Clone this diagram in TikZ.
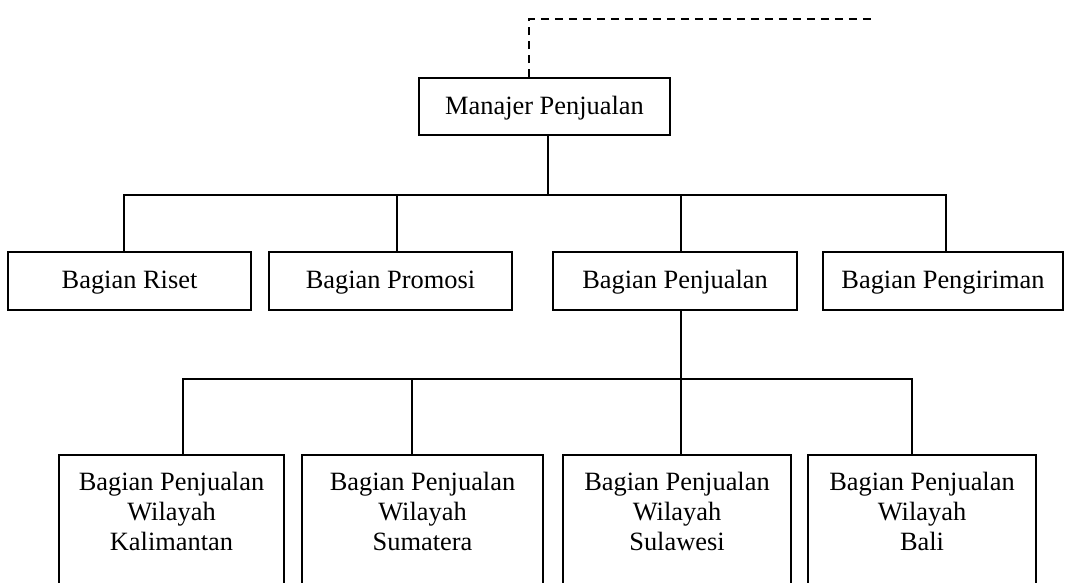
\documentclass[tikz,border=0pt]{standalone}
\usepackage{fontspec}
\setmainfont{Liberation Serif}
\usetikzlibrary{positioning}

\begin{document}
\begin{tikzpicture}[
    x=0.5pt, y=-0.5pt,
    kotak/.style={rectangle, draw, line width=0.9pt, minimum height=29pt, inner sep=2pt, text height=10pt, text depth=2pt, font=\fontsize{13.2}{15}\selectfont},
    wilayah/.style={kotak, anchor=north, align=flush center, text width=100pt, text height=10pt, text depth=70pt, inner ysep=8pt},
    garis/.style={line width=0.9pt}
]
    \clip (0,0) rectangle (1073,583);

    % Manajer
    \node[kotak, minimum width=125.5pt, minimum height=28.5pt] (mgr) at (544.5,106.5) {Manajer Penjualan};
    \coordinate (atas) at (872,19);
    \coordinate (bus1) at (548,195);
    \coordinate (bus2) at (681,379);
    \draw[garis, dash pattern=on 4pt off 3pt] ([xshift=-7.75pt]mgr.north) |- (atas);

    % Bagian
    \foreach \n/\x/\w/\t in {riset/129.5/121.5/Riset, promosi/390.5/121.5/Promosi, penjualan/675/122/Penjualan, pengiriman/943/120/Pengiriman} {
        \node[kotak, minimum width=\w pt] (\n) at (\x,281) {Bagian \t};
    }

    % Wilayah
    \foreach \n/\x/\w/\t in {kal/171.5/112.5/Kalimantan, sum/422.5/120.5/Sumatera, sul/677/114/Sulawesi, bali/922/114/Bali} {
        \node[wilayah, minimum width=\w pt] (\n) at (\x,454) {Bagian Penjualan\\Wilayah\\\t};
    }

    % Garis
    \draw[garis] (mgr.south -| bus1) -- (bus1);
    \foreach \n/\dx in {riset/-2.75, promosi/3.25, penjualan/3, pengiriman/1.5} {
        \draw[garis] ([xshift=\dx pt]\n.north) |- (bus1);
    }
    \draw[garis] ([xshift=3pt]penjualan.south) -- (bus2);
    \foreach \n/\dx in {kal/5.75, sum/-5.25, sul/2, bali/-5} {
        \draw[garis] ([xshift=\dx pt]\n.north) |- (bus2);
    }
\end{tikzpicture}
\end{document}
